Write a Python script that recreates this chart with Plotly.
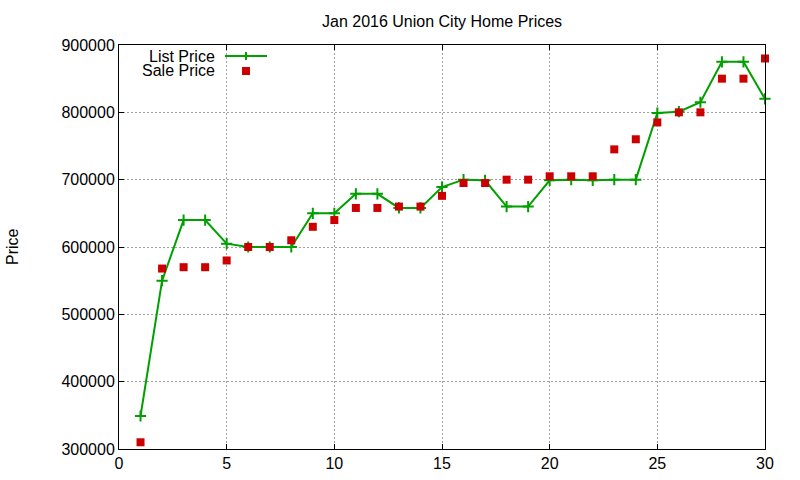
import plotly.graph_objects as go

days = list(range(1, 31))
list_price = [349000, 550000, 640000, 640000, 605000, 600000, 600000, 600000, 650000, 650000,
              679000, 679000, 658000, 658000, 689000, 700000, 699000, 660000, 660000, 699000,
              700000, 699000, 700000, 700000, 799000, 801000, 815000, 875000, 875000, 820000]
sale_price = [310000, 568000, 570000, 570000, 580000, 600000, 600000, 610000, 630000, 640000,
              658000, 658000, 660000, 660000, 676000, 695000, 695000, 700000, 700000, 705000,
              705000, 705000, 745000, 760000, 785000, 800000, 800000, 850000, 850000, 880000]

x_ticks = [0, 5, 10, 15, 20, 25, 30]
y_ticks = [300000, 400000, 500000, 600000, 700000, 800000, 900000]

GREEN = "#00a000"
RED = "#cc0000"
FONT = "Liberation Sans, Arial, sans-serif"

fig = go.Figure()
fig.add_trace(go.Scatter(
    x=days, y=list_price, mode="lines+markers", name="List Price",
    line=dict(color=GREEN, width=2),
    marker=dict(symbol="cross-thin", size=8, line=dict(color=GREEN, width=2)),
    cliponaxis=False,
))
fig.add_trace(go.Scatter(
    x=days, y=sale_price, mode="markers", name="Sale Price",
    marker=dict(symbol="square", size=8, color=RED),
    cliponaxis=False,
))

L, R, T, B = 119, 35, 45, 31
W, H = 800, 480
pw, ph = W - L - R, H - T - B

def px(xp):
    return (xp - L) / pw

def py(yp):
    return (H - B - yp) / ph

shapes = [
    dict(type="line", xref="paper", yref="paper", x0=px(225), x1=px(267), y0=py(56), y1=py(56),
         line=dict(color=GREEN, width=2)),
    dict(type="line", xref="paper", yref="paper", x0=px(246), x1=px(246), y0=py(52), y1=py(60),
         line=dict(color=GREEN, width=2)),
    dict(type="rect", xref="paper", yref="paper", x0=px(242), x1=px(250), y0=py(75), y1=py(67),
         fillcolor=RED, line=dict(width=0)),
]

annotations = [
    dict(text="List Price", xref="paper", yref="paper", x=px(217), y=py(56),
         xanchor="right", yanchor="middle", showarrow=False, font=dict(size=16, color="#000")),
    dict(text="Sale Price", xref="paper", yref="paper", x=px(217), y=py(71),
         xanchor="right", yanchor="middle", showarrow=False, font=dict(size=16, color="#000")),
    dict(text="Price", xref="paper", yref="paper", x=px(12), y=0.5, textangle=-90,
         xanchor="center", yanchor="middle", showarrow=False, font=dict(size=16, color="#000")),
    dict(text="Jan 2016 Union City Home Prices", xref="paper", yref="paper", x=0.5, y=py(22),
         xanchor="center", yanchor="middle", showarrow=False, font=dict(size=16, color="#000")),
]

axis_common = dict(
    showline=True, linecolor="black", linewidth=1, mirror="ticks",
    ticks="inside", ticklen=5, tickwidth=1, tickcolor="black",
    showgrid=True, gridcolor="#a0a0a0", gridwidth=1, griddash="2px,2px",
    zeroline=False, tickfont=dict(size=16, color="#000"),
)

fig.update_layout(
    width=W, height=H,
    margin=dict(l=L, r=R, t=T, b=B, autoexpand=False),
    paper_bgcolor="white", plot_bgcolor="white",
    font=dict(family=FONT, size=16, color="#000"),
    showlegend=False,
    shapes=shapes, annotations=annotations,
    xaxis=dict(range=[0, 30], tickvals=x_ticks, ticktext=[str(v) for v in x_ticks], **axis_common),
    yaxis=dict(range=[300000, 900000], tickvals=y_ticks, ticktext=[str(v) for v in y_ticks], **axis_common),
)

fig.write_html("out.html", config={"displayModeBar": False},
               post_script="document.body.style.margin='0';")
